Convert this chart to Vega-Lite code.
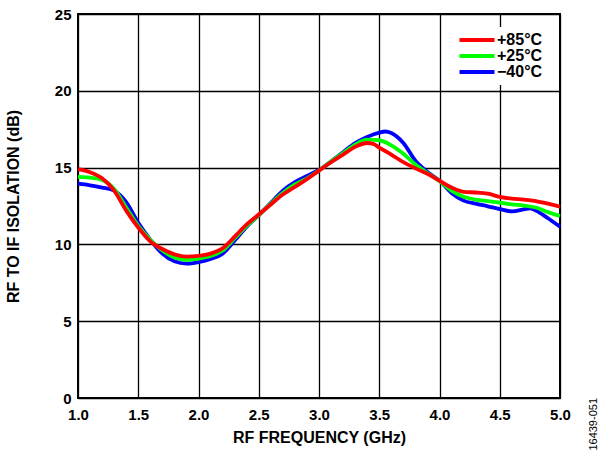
{
  "$schema": "https://vega.github.io/schema/vega-lite/v6.json",
  "autosize": "none",
  "width": 482,
  "height": 384,
  "padding": {"left": 78, "top": 14, "right": 39, "bottom": 52},
  "background": "white",
  "config": {
    "font": "Liberation Sans",
    "view": {"stroke": "black", "strokeWidth": 2},
    "axis": {
      "labelFont": "Liberation Sans",
      "labelFontWeight": "bold",
      "labelFontSize": 15,
      "labelColor": "black",
      "labelFlush": false,
      "labelOverlap": false,
      "titleFont": "Liberation Sans",
      "titleFontWeight": "bold",
      "titleFontSize": 16,
      "titleColor": "black",
      "grid": true,
      "gridColor": "black",
      "gridWidth": 1.3,
      "gridOpacity": 1,
      "domain": false,
      "ticks": false
    }
  },
  "title": {
    "text": "16439-051",
    "orient": "right",
    "anchor": "end",
    "frame": "group",
    "angle": -90,
    "font": "Liberation Sans",
    "fontSize": 11,
    "fontWeight": "normal",
    "color": "black",
    "offset": 7
  },
  "data": {
    "values": [
      {"f": 1.0, "iso": 13.95, "t": "−40°C"},
      {"f": 1.1, "iso": 13.85, "t": "−40°C"},
      {"f": 1.2, "iso": 13.7, "t": "−40°C"},
      {"f": 1.3, "iso": 13.5, "t": "−40°C"},
      {"f": 1.4, "iso": 12.75, "t": "−40°C"},
      {"f": 1.5, "iso": 11.4, "t": "−40°C"},
      {"f": 1.6, "iso": 10.3, "t": "−40°C"},
      {"f": 1.7, "iso": 9.4, "t": "−40°C"},
      {"f": 1.8, "iso": 8.9, "t": "−40°C"},
      {"f": 1.9, "iso": 8.75, "t": "−40°C"},
      {"f": 2.0, "iso": 8.85, "t": "−40°C"},
      {"f": 2.1, "iso": 9.05, "t": "−40°C"},
      {"f": 2.2, "iso": 9.4, "t": "−40°C"},
      {"f": 2.3, "iso": 10.25, "t": "−40°C"},
      {"f": 2.4, "iso": 11.15, "t": "−40°C"},
      {"f": 2.5, "iso": 11.9, "t": "−40°C"},
      {"f": 2.6, "iso": 12.7, "t": "−40°C"},
      {"f": 2.7, "iso": 13.5, "t": "−40°C"},
      {"f": 2.8, "iso": 14.05, "t": "−40°C"},
      {"f": 2.9, "iso": 14.45, "t": "−40°C"},
      {"f": 3.0, "iso": 14.85, "t": "−40°C"},
      {"f": 3.1, "iso": 15.4, "t": "−40°C"},
      {"f": 3.2, "iso": 16.0, "t": "−40°C"},
      {"f": 3.3, "iso": 16.6, "t": "−40°C"},
      {"f": 3.4, "iso": 17.0, "t": "−40°C"},
      {"f": 3.5, "iso": 17.28, "t": "−40°C"},
      {"f": 3.55, "iso": 17.35, "t": "−40°C"},
      {"f": 3.6, "iso": 17.25, "t": "−40°C"},
      {"f": 3.7, "iso": 16.6, "t": "−40°C"},
      {"f": 3.8, "iso": 15.45, "t": "−40°C"},
      {"f": 3.9, "iso": 14.72, "t": "−40°C"},
      {"f": 4.0, "iso": 14.15, "t": "−40°C"},
      {"f": 4.1, "iso": 13.35, "t": "−40°C"},
      {"f": 4.2, "iso": 12.85, "t": "−40°C"},
      {"f": 4.3, "iso": 12.65, "t": "−40°C"},
      {"f": 4.4, "iso": 12.48, "t": "−40°C"},
      {"f": 4.5, "iso": 12.3, "t": "−40°C"},
      {"f": 4.6, "iso": 12.15, "t": "−40°C"},
      {"f": 4.7, "iso": 12.28, "t": "−40°C"},
      {"f": 4.75, "iso": 12.35, "t": "−40°C"},
      {"f": 4.8, "iso": 12.2, "t": "−40°C"},
      {"f": 4.9, "iso": 11.7, "t": "−40°C"},
      {"f": 5.0, "iso": 11.15, "t": "−40°C"},
      {"f": 1.0, "iso": 14.4, "t": "+25°C"},
      {"f": 1.1, "iso": 14.35, "t": "+25°C"},
      {"f": 1.2, "iso": 14.2, "t": "+25°C"},
      {"f": 1.3, "iso": 13.6, "t": "+25°C"},
      {"f": 1.4, "iso": 12.4, "t": "+25°C"},
      {"f": 1.5, "iso": 11.2, "t": "+25°C"},
      {"f": 1.6, "iso": 10.3, "t": "+25°C"},
      {"f": 1.7, "iso": 9.6, "t": "+25°C"},
      {"f": 1.8, "iso": 9.15, "t": "+25°C"},
      {"f": 1.9, "iso": 9.0, "t": "+25°C"},
      {"f": 2.0, "iso": 9.08, "t": "+25°C"},
      {"f": 2.1, "iso": 9.25, "t": "+25°C"},
      {"f": 2.2, "iso": 9.6, "t": "+25°C"},
      {"f": 2.3, "iso": 10.4, "t": "+25°C"},
      {"f": 2.4, "iso": 11.2, "t": "+25°C"},
      {"f": 2.5, "iso": 11.9, "t": "+25°C"},
      {"f": 2.6, "iso": 12.65, "t": "+25°C"},
      {"f": 2.7, "iso": 13.35, "t": "+25°C"},
      {"f": 2.8, "iso": 13.9, "t": "+25°C"},
      {"f": 2.9, "iso": 14.3, "t": "+25°C"},
      {"f": 3.0, "iso": 14.8, "t": "+25°C"},
      {"f": 3.1, "iso": 15.4, "t": "+25°C"},
      {"f": 3.2, "iso": 15.95, "t": "+25°C"},
      {"f": 3.3, "iso": 16.5, "t": "+25°C"},
      {"f": 3.4, "iso": 16.82, "t": "+25°C"},
      {"f": 3.5, "iso": 16.78, "t": "+25°C"},
      {"f": 3.6, "iso": 16.45, "t": "+25°C"},
      {"f": 3.7, "iso": 15.9, "t": "+25°C"},
      {"f": 3.8, "iso": 15.2, "t": "+25°C"},
      {"f": 3.9, "iso": 14.65, "t": "+25°C"},
      {"f": 4.0, "iso": 14.13, "t": "+25°C"},
      {"f": 4.1, "iso": 13.5, "t": "+25°C"},
      {"f": 4.2, "iso": 13.1, "t": "+25°C"},
      {"f": 4.3, "iso": 12.92, "t": "+25°C"},
      {"f": 4.4, "iso": 12.82, "t": "+25°C"},
      {"f": 4.5, "iso": 12.72, "t": "+25°C"},
      {"f": 4.6, "iso": 12.6, "t": "+25°C"},
      {"f": 4.7, "iso": 12.53, "t": "+25°C"},
      {"f": 4.8, "iso": 12.4, "t": "+25°C"},
      {"f": 4.9, "iso": 12.1, "t": "+25°C"},
      {"f": 5.0, "iso": 11.85, "t": "+25°C"},
      {"f": 1.0, "iso": 14.9, "t": "+85°C"},
      {"f": 1.1, "iso": 14.7, "t": "+85°C"},
      {"f": 1.2, "iso": 14.3, "t": "+85°C"},
      {"f": 1.3, "iso": 13.5, "t": "+85°C"},
      {"f": 1.4, "iso": 12.2, "t": "+85°C"},
      {"f": 1.5, "iso": 11.1, "t": "+85°C"},
      {"f": 1.6, "iso": 10.2, "t": "+85°C"},
      {"f": 1.7, "iso": 9.7, "t": "+85°C"},
      {"f": 1.8, "iso": 9.35, "t": "+85°C"},
      {"f": 1.9, "iso": 9.2, "t": "+85°C"},
      {"f": 2.0, "iso": 9.25, "t": "+85°C"},
      {"f": 2.1, "iso": 9.4, "t": "+85°C"},
      {"f": 2.2, "iso": 9.75, "t": "+85°C"},
      {"f": 2.3, "iso": 10.5, "t": "+85°C"},
      {"f": 2.4, "iso": 11.3, "t": "+85°C"},
      {"f": 2.5, "iso": 11.95, "t": "+85°C"},
      {"f": 2.6, "iso": 12.6, "t": "+85°C"},
      {"f": 2.7, "iso": 13.25, "t": "+85°C"},
      {"f": 2.8, "iso": 13.75, "t": "+85°C"},
      {"f": 2.9, "iso": 14.25, "t": "+85°C"},
      {"f": 3.0, "iso": 14.8, "t": "+85°C"},
      {"f": 3.1, "iso": 15.35, "t": "+85°C"},
      {"f": 3.2, "iso": 15.85, "t": "+85°C"},
      {"f": 3.3, "iso": 16.35, "t": "+85°C"},
      {"f": 3.4, "iso": 16.6, "t": "+85°C"},
      {"f": 3.45, "iso": 16.55, "t": "+85°C"},
      {"f": 3.5, "iso": 16.3, "t": "+85°C"},
      {"f": 3.6, "iso": 15.85, "t": "+85°C"},
      {"f": 3.7, "iso": 15.35, "t": "+85°C"},
      {"f": 3.8, "iso": 14.95, "t": "+85°C"},
      {"f": 3.9, "iso": 14.6, "t": "+85°C"},
      {"f": 4.0, "iso": 14.15, "t": "+85°C"},
      {"f": 4.1, "iso": 13.7, "t": "+85°C"},
      {"f": 4.2, "iso": 13.42, "t": "+85°C"},
      {"f": 4.3, "iso": 13.38, "t": "+85°C"},
      {"f": 4.4, "iso": 13.3, "t": "+85°C"},
      {"f": 4.5, "iso": 13.1, "t": "+85°C"},
      {"f": 4.6, "iso": 12.98, "t": "+85°C"},
      {"f": 4.7, "iso": 12.92, "t": "+85°C"},
      {"f": 4.8, "iso": 12.82, "t": "+85°C"},
      {"f": 4.9, "iso": 12.65, "t": "+85°C"},
      {"f": 5.0, "iso": 12.45, "t": "+85°C"}
    ]
  },
  "mark": {"type": "line", "interpolate": "monotone", "strokeWidth": 3.8},
  "encoding": {
    "x": {
      "field": "f",
      "type": "quantitative",
      "title": "RF FREQUENCY (GHz)",
      "scale": {"domain": [1, 5], "nice": false},
      "axis": {"values": [1, 1.5, 2, 2.5, 3, 3.5, 4, 4.5, 5], "format": ".1f", "labelPadding": 9, "titlePadding": 7}
    },
    "y": {
      "field": "iso",
      "type": "quantitative",
      "title": "RF TO IF ISOLATION (dB)",
      "scale": {"domain": [0, 25], "nice": false},
      "axis": {"values": [0, 5, 10, 15, 20, 25], "labelPadding": 7, "titlePadding": 33}
    },
    "color": {
      "field": "t",
      "type": "nominal",
      "scale": {"domain": ["+85°C", "+25°C", "−40°C"], "range": ["#ff0000", "#00ff00", "#0000ff"]},
      "legend": {
        "title": null,
        "orient": "none",
        "legendX": 386,
        "legendY": 13,
        "fillColor": "white",
        "padding": 5,
        "symbolType": "M-3.5,0H3.5",
        "symbolSize": 100,
        "symbolStrokeWidth": 4,
        "symbolFillColor": "transparent",
        "labelFont": "Liberation Sans",
        "labelFontWeight": "bold",
        "labelFontSize": 16,
        "labelColor": "black",
        "rowPadding": 0,
        "labelOffset": 12
      }
    }
  }
}
